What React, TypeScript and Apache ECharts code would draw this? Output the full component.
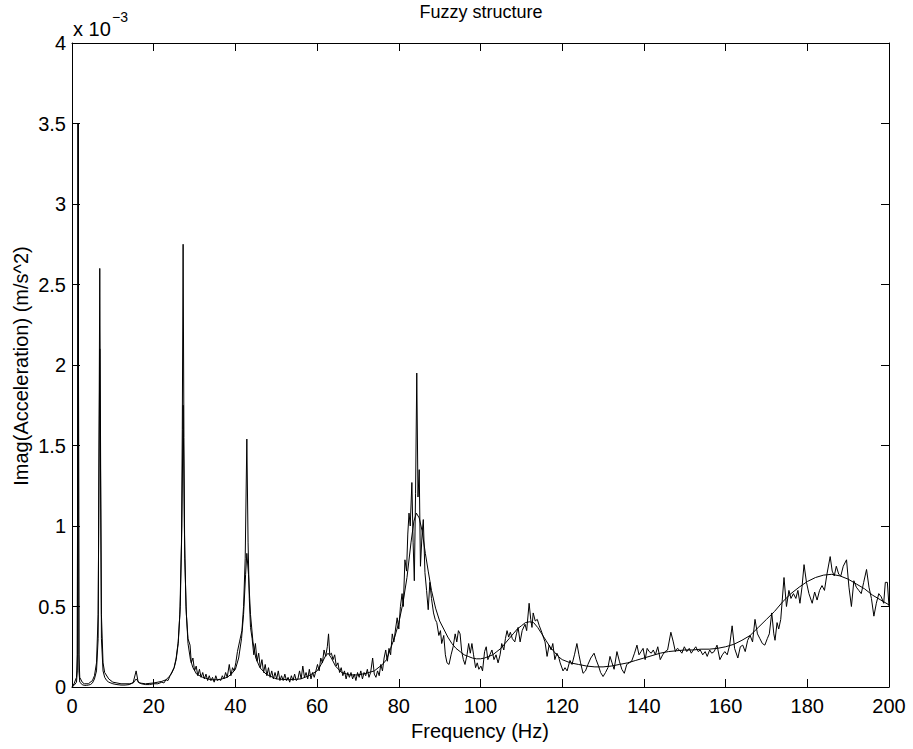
import React, { useEffect, useRef } from "react";
import * as echarts from "echarts";

// Frequency axis ticks (Hz) and amplitude ticks (x 10^-3 m/s^2)
const xTicks = [0, 20, 40, 60, 80, 100, 120, 140, 160, 180, 200];
const yTicks = [0, 0.5, 1, 1.5, 2, 2.5, 3, 3.5, 4];

// Measured (fuzzy) response, [frequency Hz, Imag(acc) x1e-3]
const measuredLow: [number, number][] = [
  [0, 0.0], [0.5, 0.01], [1.1, 0.03], [1.3, 0.1], [1.5, 3.5], [1.7, 0.1], [1.9, 0.03], [2.5, 0.015], [3.0, 0.01], [3.5, 0.01],
  [4.0, 0.012], [4.5, 0.015], [5.0, 0.025], [5.5, 0.05], [6.0, 0.1], [6.4, 0.3], [6.8, 2.6], [7.2, 0.3],
  [7.6, 0.1], [8.0, 0.06], [8.5, 0.04], [9, 0.03], [10, 0.02], [11, 0.015], [12, 0.012], [13, 0.012],
  [14, 0.015], [14.5, 0.02], [15, 0.03], [15.7, 0.1], [16.2, 0.03], [17, 0.02], [18, 0.015], [19, 0.015],
  [20, 0.02], [21, 0.02], [22, 0.03], [22.5, 0.025], [23, 0.045], [23.5, 0.04], [24, 0.07], [24.5, 0.09],
  [25, 0.12], [25.5, 0.18], [26, 0.28], [26.4, 0.45], [26.8, 0.9], [27.0, 1.6], [27.2, 2.75], [27.4, 1.55],
  [27.6, 0.8], [28.0, 0.45], [28.4, 0.3], [28.9, 0.26], [29.2, 0.15], [29.6, 0.18], [30, 0.1], [30.4, 0.13],
  [30.8, 0.07], [31.2, 0.11], [31.6, 0.06], [32, 0.09], [32.4, 0.05], [32.8, 0.08], [33.2, 0.04], [33.6, 0.07],
  [34, 0.04], [34.4, 0.06], [34.8, 0.03], [35.2, 0.07], [35.6, 0.04], [36, 0.05], [36.4, 0.04], [36.8, 0.07],
  [37.2, 0.05], [37.6, 0.09], [38, 0.06], [38.5, 0.14], [38.9, 0.07], [39.3, 0.12], [39.7, 0.1], [40.1, 0.15],
  [40.5, 0.22], [41, 0.28], [41.6, 0.35], [42, 0.5], [42.4, 0.8], [42.8, 1.54], [43.1, 0.9], [43.4, 0.55],
  [43.7, 0.37], [44.1, 0.3], [44.5, 0.2], [44.9, 0.27], [45.3, 0.16], [45.7, 0.21], [46.1, 0.12], [46.5, 0.17],
  [46.9, 0.09], [47.3, 0.14], [47.7, 0.07], [48.1, 0.12], [48.5, 0.06], [48.9, 0.1], [49.3, 0.05], [49.7, 0.09],
];

const measuredMid: [number, number][] = [
  [50.1, 0.05], [50.5, 0.1], [50.9, 0.04], [51.3, 0.07], [51.7, 0.04], [52.1, 0.08], [52.5, 0.04], [52.9, 0.06],
  [53.3, 0.03], [53.7, 0.07], [54.1, 0.04], [54.5, 0.08], [54.9, 0.04], [55.3, 0.05], [55.7, 0.1], [56.1, 0.05],
  [56.5, 0.13], [56.9, 0.06], [57.3, 0.09], [57.7, 0.05], [58.1, 0.11], [58.5, 0.05], [58.9, 0.09], [59.3, 0.06],
  [59.7, 0.1], [60.1, 0.14], [60.5, 0.1], [60.9, 0.18], [61.3, 0.15], [61.7, 0.23], [62.1, 0.19], [62.5, 0.25],
  [62.8, 0.33], [63.1, 0.2], [63.5, 0.21], [63.9, 0.17], [64.3, 0.2], [64.7, 0.13], [65.1, 0.15], [65.5, 0.09],
  [65.9, 0.12], [66.3, 0.07], [66.7, 0.1], [67.1, 0.05], [67.5, 0.09], [67.9, 0.06], [68.3, 0.09], [68.7, 0.05],
  [69.1, 0.08], [69.5, 0.04], [69.9, 0.09], [70.3, 0.06], [70.7, 0.1], [71.1, 0.05], [71.5, 0.09], [71.9, 0.07],
  [72.3, 0.11], [72.7, 0.06], [73.1, 0.09], [73.6, 0.18], [74, 0.08], [74.4, 0.06], [74.8, 0.1], [75.2, 0.07],
  [75.6, 0.14], [76, 0.1], [76.4, 0.18], [76.8, 0.23], [77.2, 0.16], [77.6, 0.24], [78, 0.2], [78.4, 0.33],
  [78.8, 0.28], [79.2, 0.36], [79.6, 0.43], [80, 0.36], [80.4, 0.5], [80.8, 0.58], [81.1, 0.5], [81.5, 0.79],
  [81.9, 0.72], [82.2, 0.95], [82.5, 1.08], [82.8, 1.0], [83.2, 1.27], [83.5, 0.9], [83.8, 0.66], [84.1, 1.2],
  [84.4, 1.95], [84.7, 1.18], [85.0, 1.35], [85.3, 0.75], [85.7, 0.95], [86.0, 1.04], [86.4, 0.71], [86.8, 0.6],
  [87.2, 0.48], [87.6, 0.65], [88, 0.55], [88.5, 0.46], [88.9, 0.42], [89.3, 0.4], [89.8, 0.32], [90.2, 0.35],
  [90.5, 0.27], [91, 0.32], [91.4, 0.2], [91.8, 0.15], [92.3, 0.14], [92.8, 0.2], [93.3, 0.25], [93.8, 0.33],
  [94.2, 0.28], [94.6, 0.35], [95, 0.33], [95.4, 0.22], [95.8, 0.17], [96.2, 0.14], [96.7, 0.2], [97.1, 0.27],
  [97.5, 0.21], [97.9, 0.27], [98.3, 0.2], [98.8, 0.12], [99.2, 0.15], [99.6, 0.11],
];

const measuredHigh: [number, number][] = [
  [100.1, 0.13], [100.5, 0.1], [101, 0.22], [101.4, 0.25], [101.8, 0.17], [102.3, 0.2], [102.8, 0.23], [103.3, 0.17],
  [103.8, 0.2], [104.3, 0.15], [104.8, 0.2], [105.2, 0.27], [105.7, 0.23], [106.1, 0.3], [106.5, 0.35], [106.9, 0.31],
  [107.3, 0.34], [107.8, 0.3], [108.4, 0.28], [108.8, 0.33], [109.2, 0.37], [109.7, 0.28], [110.2, 0.35], [110.9, 0.39],
  [111.3, 0.35], [111.9, 0.52], [112.3, 0.42], [112.6, 0.37], [112.9, 0.46], [113.4, 0.41], [113.9, 0.42], [114.4, 0.38],
  [115, 0.34], [115.5, 0.3], [115.8, 0.28], [116.3, 0.19], [116.8, 0.26], [117.3, 0.23], [117.7, 0.27], [118.2, 0.17],
  [118.7, 0.21], [119.1, 0.19], [119.5, 0.15], [120.2, 0.1], [120.7, 0.12], [121.2, 0.1], [121.9, 0.165], [122.4, 0.14],
  [123, 0.2], [123.6, 0.27], [124.1, 0.2], [124.5, 0.15], [125.1, 0.085], [125.7, 0.1], [126.3, 0.14], [127, 0.18],
  [127.8, 0.21], [128.3, 0.17], [128.9, 0.13], [129.4, 0.09], [130, 0.065], [130.6, 0.09], [131.2, 0.12], [131.7, 0.19],
  [132.2, 0.15], [132.7, 0.11], [133.4, 0.22], [134, 0.16], [134.6, 0.11], [135.2, 0.085], [135.8, 0.14], [136.4, 0.15],
  [137, 0.16], [137.7, 0.21], [138.3, 0.26], [138.8, 0.2], [139.3, 0.22], [139.8, 0.24], [140.3, 0.17], [140.8, 0.24],
  [141.3, 0.22], [141.8, 0.21], [142.3, 0.23], [142.8, 0.2], [143.4, 0.25], [144, 0.17], [144.6, 0.2], [145.2, 0.22],
  [145.8, 0.23], [146.6, 0.34], [147.2, 0.28], [147.7, 0.22], [148.2, 0.24], [148.7, 0.23], [149.3, 0.21], [149.9, 0.25],
  [150.5, 0.22], [151.1, 0.24], [151.6, 0.21], [152.1, 0.23], [152.7, 0.25], [153.3, 0.22], [153.8, 0.23], [154.4, 0.2],
  [155, 0.22], [155.5, 0.19], [156.1, 0.23], [156.6, 0.21], [157.2, 0.22], [157.9, 0.26], [158.6, 0.17], [159.2, 0.2],
  [159.8, 0.22], [160.4, 0.2], [161, 0.26], [161.6, 0.38], [162.2, 0.24], [163, 0.18], [163.6, 0.25], [164.2, 0.26],
  [164.8, 0.22], [165.4, 0.29], [166, 0.32], [166.6, 0.28], [167.2, 0.42], [167.8, 0.33], [168.4, 0.3], [169, 0.27],
  [169.6, 0.26], [170.2, 0.3], [170.7, 0.33], [171.3, 0.46], [171.8, 0.33], [172.1, 0.29], [172.6, 0.4], [173, 0.36],
  [173.5, 0.42], [174.3, 0.68], [174.9, 0.5], [175.5, 0.6], [176, 0.55], [176.6, 0.58], [177.2, 0.55], [177.7, 0.6],
  [178.2, 0.52], [178.7, 0.62], [179.2, 0.76], [179.8, 0.65], [180.4, 0.58], [181.2, 0.52], [181.8, 0.59], [182.4, 0.54],
  [183, 0.6], [183.6, 0.63], [184.2, 0.6], [184.8, 0.7], [185.6, 0.81], [186.1, 0.72], [186.6, 0.69], [187.1, 0.75],
  [187.7, 0.7], [188.2, 0.69], [188.8, 0.75], [189.6, 0.79], [190.2, 0.62], [190.8, 0.5], [191.4, 0.66], [192, 0.62],
  [192.6, 0.6], [193.2, 0.58], [193.8, 0.65], [194.5, 0.73], [195.1, 0.62], [195.7, 0.55], [196.3, 0.44], [196.9, 0.52],
  [197.5, 0.58], [198.1, 0.56], [198.7, 0.52], [199.1, 0.65], [199.6, 0.65], [200, 0.5],
];

// Mean (smooth) response
const meanCurve: [number, number][] = [
  [0, 0], [0.5, 0.02], [1.1, 0.06], [1.3, 0.2], [1.5, 3.5], [1.7, 0.2], [1.9, 0.06], [2.5, 0.03], [3, 0.02], [4, 0.02], [5, 0.04],
  [5.5, 0.07], [6, 0.15], [6.4, 0.45], [6.8, 2.1], [7.2, 0.45], [7.6, 0.15], [8, 0.09], [9, 0.05], [10, 0.03],
  [12, 0.02], [14, 0.02], [15, 0.025], [15.7, 0.05], [16.5, 0.025], [18, 0.02], [20, 0.025], [22, 0.035],
  [23, 0.045], [24, 0.07], [25, 0.12], [25.5, 0.17], [26, 0.27], [26.5, 0.5], [26.9, 1.0], [27.2, 1.75],
  [27.5, 1.0], [27.9, 0.5], [28.4, 0.27], [29, 0.17], [29.6, 0.12], [30.5, 0.08], [32, 0.06], [34, 0.045],
  [36, 0.045], [38, 0.06], [39, 0.08], [40, 0.11], [40.8, 0.18], [41.5, 0.3], [42, 0.45], [42.5, 0.7],
  [42.8, 0.83], [43.2, 0.7], [43.7, 0.45], [44.3, 0.28], [45, 0.18], [46, 0.12], [47.5, 0.08], [50, 0.05],
  [53, 0.045], [56, 0.05], [58, 0.07], [60, 0.1], [61, 0.14], [62, 0.19], [62.7, 0.21], [63.5, 0.18],
  [64.5, 0.13], [66, 0.09], [68, 0.075], [70, 0.075], [72, 0.085], [74, 0.1], [76, 0.14], [77, 0.17],
  [78, 0.24], [79, 0.31], [80, 0.4], [81, 0.52], [82, 0.68], [83, 0.9], [83.7, 1.03], [84.3, 1.08],
  [85, 1.05], [85.7, 0.97], [86.5, 0.83], [87.2, 0.72], [88, 0.6], [89, 0.49], [90, 0.41], [91, 0.36],
  [92, 0.31], [93, 0.27], [94, 0.24], [95, 0.22], [96, 0.2], [97, 0.19], [98, 0.18], [99, 0.175],
  [100, 0.175], [101, 0.18], [102, 0.19], [103, 0.2], [104, 0.22], [105, 0.24], [106, 0.27], [107, 0.3],
  [108, 0.33], [109, 0.36], [110, 0.38], [111, 0.4], [112, 0.405], [113, 0.4], [114, 0.37], [115, 0.33],
  [116, 0.29], [117, 0.25], [118, 0.22], [119, 0.19], [120, 0.17], [122, 0.15], [124, 0.14], [126, 0.13],
  [128, 0.125], [130, 0.125], [132, 0.13], [134, 0.14], [136, 0.15], [138, 0.165], [140, 0.18], [142, 0.195],
  [144, 0.21], [146, 0.22], [148, 0.225], [150, 0.23], [152, 0.23], [154, 0.235], [156, 0.235], [158, 0.24],
  [160, 0.25], [162, 0.265], [164, 0.29], [166, 0.32], [168, 0.37], [170, 0.42], [172, 0.47], [174, 0.53],
  [176, 0.58], [178, 0.62], [180, 0.655], [182, 0.68], [184, 0.695], [186, 0.7], [188, 0.69], [190, 0.67],
  [192, 0.64], [194, 0.61], [196, 0.57], [198, 0.54], [200, 0.51],
];

const FONT = "'Liberation Sans', Arial, Helvetica, sans-serif";

export default function App() {
  const ref = useRef<HTMLDivElement>(null);
  useEffect(() => {
    if (!ref.current) return;
    const chart = echarts.init(ref.current, undefined, { renderer: "svg" });
    const measured = [...measuredLow, ...measuredMid, ...measuredHigh];
    const axisLine = { show: true, onZero: false, lineStyle: { color: "#000", width: 1 } };
    const tick = { show: true, inside: true, length: 8, lineStyle: { color: "#000", width: 1 } };
    const label = { color: "#000", fontSize: 20, fontFamily: FONT };
    const xMin = xTicks[0];
    const xMax = xTicks[xTicks.length - 1];
    const xInt = xTicks[1] - xTicks[0];
    const yMin = yTicks[0];
    const yMax = yTicks[yTicks.length - 1];
    const yInt = yTicks[1] - yTicks[0];
    chart.setOption({
      animation: false,
      backgroundColor: "#fff",
      grid: { left: 72, right: 24, top: 43, bottom: 62, containLabel: false },
      xAxis: [
        {
          type: "value", min: xMin, max: xMax, interval: xInt, position: "bottom",
          axisLine, axisTick: tick, splitLine: { show: false },
          axisLabel: { ...label, margin: 9 },
        },
        {
          type: "value", min: xMin, max: xMax, interval: xInt, position: "top",
          axisLine, axisTick: tick, splitLine: { show: false }, axisLabel: { show: false },
        },
      ],
      yAxis: [
        {
          type: "value", min: yMin, max: yMax, interval: yInt, position: "left",
          axisLine, axisTick: tick, splitLine: { show: false },
          axisLabel: { ...label, margin: 6 },
        },
        {
          type: "value", min: yMin, max: yMax, interval: yInt, position: "right",
          axisLine, axisTick: tick, splitLine: { show: false }, axisLabel: { show: false },
        },
      ],
      series: [
        {
          type: "line", data: measured, xAxisIndex: 0, yAxisIndex: 0, showSymbol: false,
          lineStyle: { color: "#000", width: 1 }, silent: true,
        },
        {
          type: "line", data: meanCurve, xAxisIndex: 0, yAxisIndex: 0, showSymbol: false,
          lineStyle: { color: "#000", width: 1 }, silent: true,
        },
      ],
      graphic: [
        {
          type: "text", x: 481, y: 12,
          style: { text: "Fuzzy structure", font: `18px ${FONT}`, fill: "#000", textAlign: "center", textVerticalAlign: "middle" },
        },
        {
          type: "text", x: 480, y: 731,
          style: { text: "Frequency (Hz)", font: `20px ${FONT}`, fill: "#000", textAlign: "center", textVerticalAlign: "middle" },
        },
        {
          type: "text", x: 21, y: 366, rotation: Math.PI / 2,
          style: { text: "Imag(Acceleration) (m/s^2)", font: `20px ${FONT}`, fill: "#000", textAlign: "center", textVerticalAlign: "middle" },
        },
        {
          type: "text", x: 73, y: 29,
          style: { text: "x 10", font: `20px ${FONT}`, fill: "#000", textAlign: "left", textVerticalAlign: "middle" },
        },
        {
          type: "text", x: 112, y: 17,
          style: { text: "\u22123", font: `14px ${FONT}`, fill: "#000", textAlign: "left", textVerticalAlign: "middle" },
        },
      ],
    });
    return () => chart.dispose();
  }, []);
  return (
    <div
      ref={ref}
      style={{ position: "absolute", left: 0, top: 0, width: 913, height: 749, background: "#fff" }}
    />
  );
}
